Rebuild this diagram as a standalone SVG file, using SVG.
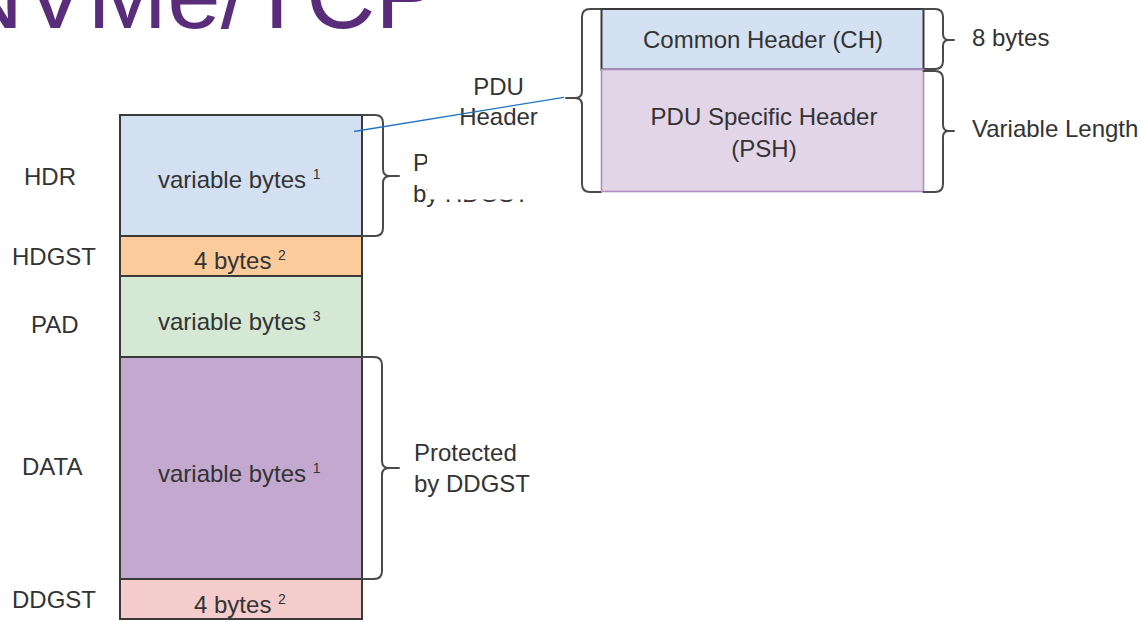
<svg xmlns="http://www.w3.org/2000/svg" width="1143" height="621" viewBox="0 0 1143 621">
  <defs>
    <style>
      .lbl { font-family: "Liberation Sans", Arial, sans-serif; font-size: 24px; fill: #333333; }
      .mid { text-anchor: middle; }
      .sup { font-size: 14px; }
      .box { stroke: #3a3a3a; stroke-width: 2; }
      .brace { fill: none; stroke: #4a4a4a; stroke-width: 2; stroke-linecap: round; stroke-linejoin: round; }
      .title { font-family: "Liberation Sans", Arial, sans-serif; font-size: 96px; fill: #5a2d7a; }
    </style>
  </defs>
  <rect width="1143" height="621" fill="#ffffff"/>

  <!-- page title, running off the top edge -->
  <g id="title">
    <text class="title" x="-46" y="28">NVMe/TCP</text>
  </g>

  <!-- PDU layout: stacked segments -->
  <g id="hdr">
    <rect class="box" x="120" y="115" width="242" height="121" fill="#d3e0f2"/>
    <text class="lbl" x="24" y="185">HDR</text>
    <text class="lbl" x="158" y="188">variable bytes <tspan class="sup" dy="-9">1</tspan></text>
  </g>
  <g id="hdgst">
    <rect class="box" x="120" y="236" width="242" height="40" fill="#fccb9c"/>
    <text class="lbl" x="12" y="265">HDGST</text>
    <text class="lbl" x="194" y="269">4 bytes <tspan class="sup" dy="-9">2</tspan></text>
  </g>
  <g id="pad">
    <rect class="box" x="120" y="276" width="242" height="81" fill="#d5e8d4"/>
    <text class="lbl" x="31" y="333">PAD</text>
    <text class="lbl" x="158" y="330">variable bytes <tspan class="sup" dy="-9">3</tspan></text>
  </g>
  <g id="data">
    <rect class="box" x="120" y="357" width="242" height="222" fill="#c3a8cf"/>
    <text class="lbl" x="22" y="475">DATA</text>
    <text class="lbl" x="158" y="482">variable bytes <tspan class="sup" dy="-9">1</tspan></text>
  </g>
  <g id="ddgst">
    <rect class="box" x="120" y="579" width="242" height="40" fill="#f4cccc"/>
    <text class="lbl" x="12" y="608">DDGST</text>
    <text class="lbl" x="194" y="613">4 bytes <tspan class="sup" dy="-9">2</tspan></text>
  </g>

  <!-- braces beside the PDU layout -->
  <g id="hdr-brace">
    <path class="brace" d="M362,115 H375 Q383,115 383,123 V169 Q383,176 390,176 Q383,176 383,183 V228 Q383,236 375,236 H362 M390,176 H399"/>
    <text class="lbl" x="413" y="171">Protected</text>
    <text class="lbl" x="413" y="202">by HDGST</text>
  </g>
  <g id="data-brace">
    <path class="brace" d="M362,357 H374 Q382,357 382,365 V461 Q382,468 389,468 Q382,468 382,475 V571 Q382,579 374,579 H362 M389,468 H399"/>
    <text class="lbl" x="414" y="461">Protected</text>
    <text class="lbl" x="414" y="492">by DDGST</text>
  </g>

  <!-- PDU header detail panel (opaque, sits over the text behind it) -->
  <g id="header-panel">
    <rect x="427" y="0" width="716" height="199.5" fill="#ffffff"/>
    <g id="pdu-header-label">
      <text class="lbl mid" x="498.5" y="95">PDU</text>
      <text class="lbl mid" x="498.5" y="125">Header</text>
      <path class="brace" d="M601,9 H590 Q582,9 582,17 V91 Q582,98 575,98 Q582,98 582,105 V184 Q582,192 590,192 H601 M575,98 H566"/>
    </g>
    <g id="ch">
      <rect x="601.5" y="9" width="322" height="60.5" fill="#d4e1f3" stroke="#3a3a3a" stroke-width="2"/>
      <text class="lbl mid" x="763" y="48">Common Header (CH)</text>
      <path class="brace" d="M923.5,9 H935 Q943,9 943,17 V34 Q943,40 949,40 Q943,40 943,46 V61 Q943,69 935,69 H923.5 M949,40 H954"/>
      <text class="lbl" x="972" y="46">8 bytes</text>
    </g>
    <g id="psh">
      <rect x="601.5" y="69.5" width="322" height="122" fill="#e2d5e8" stroke="#b08cc0" stroke-width="1.6"/>
      <text class="lbl mid" x="764" y="125">PDU Specific Header</text>
      <text class="lbl mid" x="764" y="157">(PSH)</text>
      <path class="brace" d="M923.5,71 H935 Q943,71 943,79 V125 Q943,131 949,131 Q943,131 943,137 V184 Q943,192 935,192 H923.5 M949,131 H954"/>
      <text class="lbl" x="972" y="137">Variable Length</text>
    </g>
  </g>

  <!-- callout linking HDR to the header detail -->
  <g id="connectors">
    <line x1="354" y1="131.5" x2="564" y2="97.3" stroke="#1f74c6" stroke-width="1.3"/>
  </g>
</svg>
